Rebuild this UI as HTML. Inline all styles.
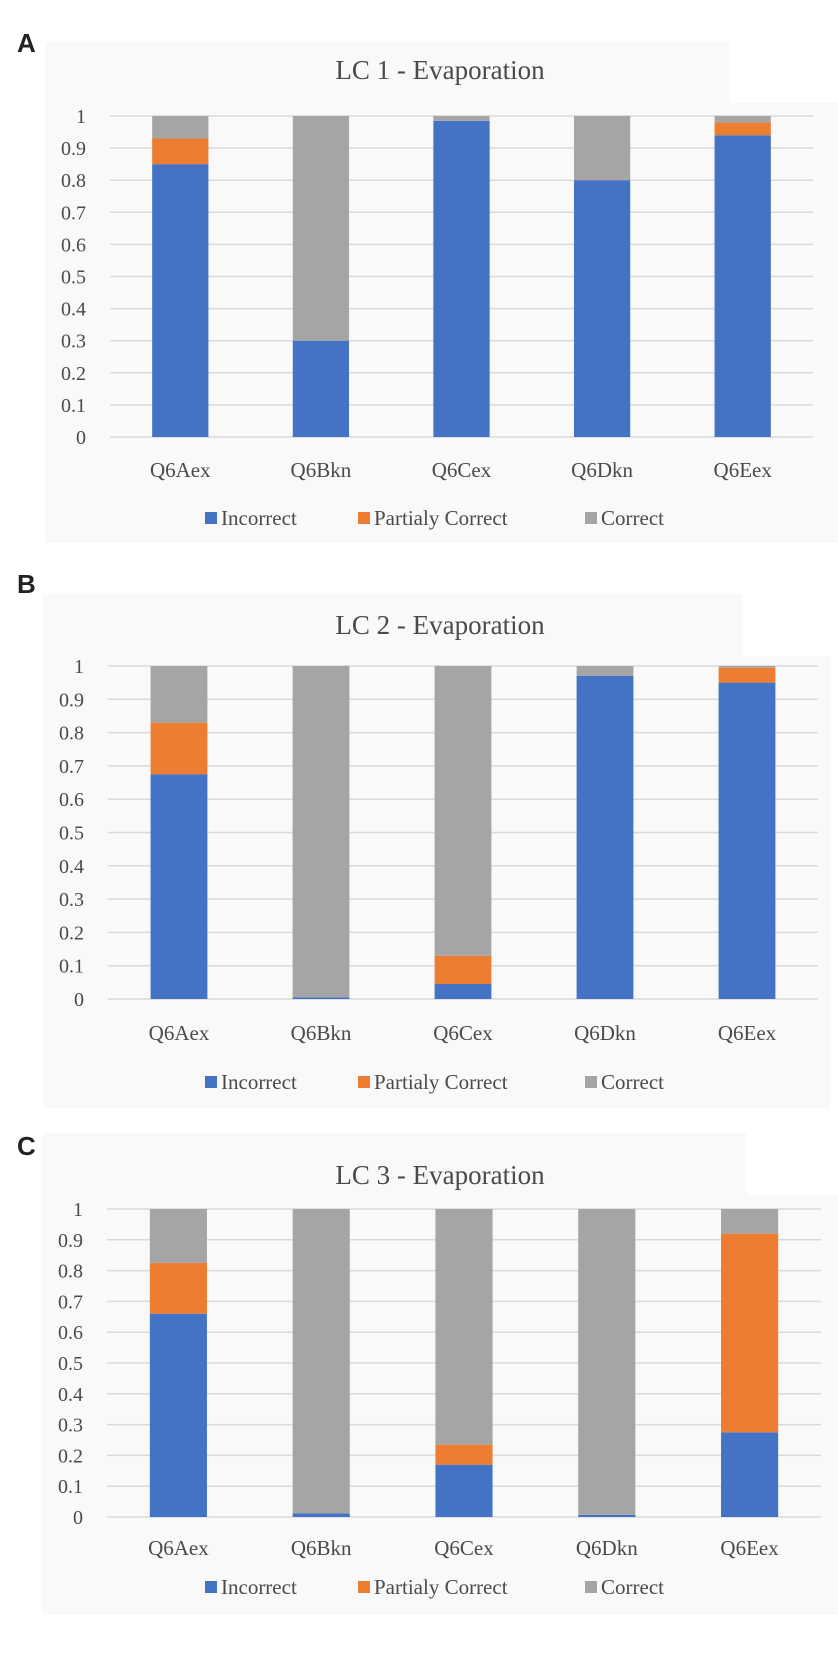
<!DOCTYPE html>
<html><head><meta charset="utf-8"><style>
html,body{margin:0;padding:0;background:#fff;}
svg{display:block;}
text{font-family:"Liberation Serif",serif;fill:#4a4a4a;}
.pl{font-family:"Liberation Sans",sans-serif;font-weight:bold;fill:#222;font-size:26px;}
</style></head><body>
<svg id="fig" width="838" height="1670" viewBox="0 0 838 1670" xmlns="http://www.w3.org/2000/svg"></svg>
<script>
const categories = ["Q6Aex","Q6Bkn","Q6Cex","Q6Dkn","Q6Eex"];
const seriesNames = ["Incorrect","Partialy Correct","Correct"];
const titles = ["LC 1 - Evaporation","LC 2 - Evaporation","LC 3 - Evaporation"];
const panelLetters = ["A","B","C"];
const yTicks = [0,0.1,0.2,0.3,0.4,0.5,0.6,0.7,0.8,0.9,1];
const yTickLabels = ["0","0.1","0.2","0.3","0.4","0.5","0.6","0.7","0.8","0.9","1"];
// LC1
const lc1Incorrect = [0.85,0.30,0.985,0.80,0.94];
const lc1Partial   = [0.08,0.00,0.00,0.00,0.04];
const lc1Correct   = [0.07,0.70,0.015,0.20,0.02];
// LC2
const lc2Incorrect = [0.675,0.005,0.045,0.97,0.95];
const lc2Partial   = [0.155,0.00,0.085,0.00,0.045];
const lc2Correct   = [0.17,0.995,0.87,0.03,0.005];
// LC3
const lc3Incorrect = [0.66,0.012,0.17,0.007,0.275];
const lc3Partial   = [0.165,0.00,0.065,0.00,0.645];
const lc3Correct   = [0.175,0.988,0.765,0.993,0.08];

const data = [[lc1Incorrect,lc1Partial,lc1Correct],[lc2Incorrect,lc2Partial,lc2Correct],[lc3Incorrect,lc3Partial,lc3Correct]];
const colors = ["#4472c4","#ed7d31","#a5a5a5"];
const layouts = [
 {bx:45,by:42,bw:793,bh:501,wx:729,wh:61,x0:110,x1:813,y1:116,y0:437,ly:470,gy:518,lx:17,lyL:52,tx:440,ty:79},
 {bx:43,by:594,bw:787,bh:514,wx:742,wh:62,x0:108,x1:818,y1:666,y0:999,ly:1033,gy:1082,lx:17,lyL:593,tx:440,ty:634},
 {bx:42,by:1133,bw:796,bh:482,wx:746,wh:62,x0:107,x1:821,y1:1209,y0:1517,ly:1548,gy:1587,lx:17,lyL:1155,tx:440,ty:1184}
];
const NS="http://www.w3.org/2000/svg";
const svg=document.getElementById('fig');
function mk(tag,attrs,parent,txt){const e=document.createElementNS(NS,tag);for(const k in attrs)e.setAttribute(k,attrs[k]);if(txt!==undefined)e.textContent=txt;parent.appendChild(e);return e;}

layouts.forEach((L,p)=>{
  const g=mk('g',{},svg);
  
  
  const bg=mk('rect',{x:L.bx,y:L.by,width:L.bw,height:L.bh,fill:'#f9f9f9'},g);
  
  
  const wr=mk('rect',{x:L.wx,y:L.by,width:838-L.wx,height:L.wh,fill:'#ffffff'},g);
  
  
  const pl=mk('text',{x:L.lx,y:L.lyL,class:'pl'},g,panelLetters[p]);
  
  
  const t=mk('text',{x:L.tx,y:L.ty,'text-anchor':'middle','font-size':'27'},g,titles[p]);
  
  
  const yS=v=>L.y0-(L.y0-L.y1)*v;
  const cw=(L.x1-L.x0)/categories.length;
  const xC=i=>L.x0+cw*(i+0.5);
  yTicks.forEach((v,i)=>{
    const gl=mk('line',{x1:L.x0,x2:L.x1,y1:yS(v),y2:yS(v),stroke:'#d9d9d9','stroke-width':'1.5'},g);
    
    
    const tl=mk('text',{x:L.x0-24,y:yS(v)+7,'text-anchor':'end','font-size':'20'},g,yTickLabels[i]);
    
    
  });
  const bw=cw*0.4;
  categories.forEach((c,i)=>{
    let acc=0;
    data[p].forEach((s,k)=>{
      const v=s[i];
      if(v>0){
        const r=mk('rect',{x:xC(i)-bw/2,y:yS(acc+v),width:bw,height:yS(acc)-yS(acc+v),fill:colors[k]},g);
        
        
      }
      acc+=v;
    });
    const cl=mk('text',{x:xC(i),y:L.ly+7,'text-anchor':'middle','font-size':'21'},g,c);
    
    
  });
  const starts=[205,358,585];
  seriesNames.forEach((n,k)=>{
    const sq=mk('rect',{x:starts[k],y:L.gy-6,width:12,height:12,fill:colors[k]},g);
    
    
    const lt=mk('text',{x:starts[k]+16,y:L.gy+7,'font-size':'21'},g,n);
    
    
  });
});
</script>
</body></html>
